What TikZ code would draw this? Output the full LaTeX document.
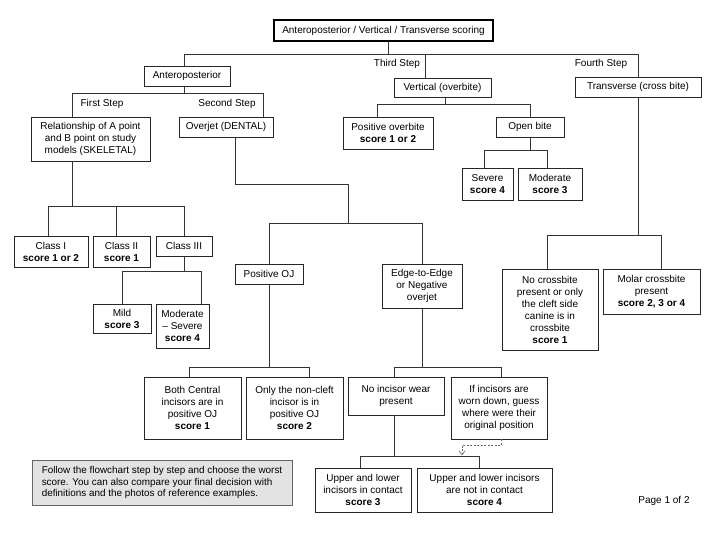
\documentclass[tikz,border=0pt]{standalone}
\usepackage{fontspec}
\setmainfont{Liberation Sans}
\usetikzlibrary{arrows.meta}
\tikzset{
  box/.style={draw=black!85, line width=0.75pt, inner sep=1pt, align=center,
    font=\fontsize{10}{12}\selectfont},
  lbl/.style={inner sep=0pt, font=\fontsize{10}{12}\selectfont},
  conn/.style={draw=black!80, line width=0.75pt},
}
\begin{document}
\begin{tikzpicture}[x=1pt,y=-1pt]
\useasboundingbox (0,0) rectangle (720,540);
% nodes
\node[box, line width=1.6pt, draw=black, minimum width=219pt, minimum height=21pt] (top) at (383.5,30.5) {Anteroposterior / Vertical / Transverse scoring};
\node[box, minimum width=86pt, minimum height=20pt] (ap) at (187,76) {Anteroposterior};
\node[box, minimum width=97pt, minimum height=19pt] (vert) at (442.5,87.5) {Vertical (overbite)};
\node[box, minimum width=126pt, minimum height=20pt] (trans) at (638,87) {Transverse (cross bite)};
\node[box, minimum width=119pt, minimum height=44pt] (rel) at (90.5,139) {Relationship of A point\\and B point on study\\models (SKELETAL)};
\node[box, minimum width=94pt, minimum height=20pt] (overjet) at (226,127) {Overjet (DENTAL)};
\node[box, minimum width=74pt, minimum height=31pt] (c1) at (51,251.5) {Class I\\\textbf{score 1 or 2}};
\node[box, minimum width=57pt, minimum height=31pt] (c2) at (121.5,251.5) {Class II\\\textbf{score 1}};
\node[box, minimum width=56pt, minimum height=20pt] (c3) at (184,246) {Class III};
\node[box, minimum width=58pt, minimum height=29pt] (mild) at (122,318.5) {Mild\\\textbf{score 3}};
\node[box, minimum width=53pt, minimum height=44pt] (mod) at (182.5,326) {Moderate\\-- Severe\\\textbf{score 4}};
\node[box, minimum width=68pt, minimum height=20pt] (posoj) at (269,274) {Positive OJ};
\node[box, minimum width=80pt, minimum height=44pt] (edge) at (422,286) {Edge-to-Edge\\or Negative\\overjet};
\node[box, minimum width=97pt, minimum height=62pt] (both) at (192.5,408) {Both Central\\incisors are in\\positive OJ\\\textbf{score 1}};
\node[box, minimum width=97pt, minimum height=62pt] (only) at (294.5,408) {Only the non-cleft\\incisor is in\\positive OJ\\\textbf{score 2}};
\node[box, minimum width=96pt, minimum height=38pt] (nowear) at (396,396) {No incisor wear\\present};
\node[box, minimum width=96pt, minimum height=62pt] (ifinc) at (499,408) {If incisors are\\worn down, guess\\where were their\\original position};
\node[box, minimum width=96pt, minimum height=44pt] (contact) at (363,490) {Upper and lower\\incisors in contact\\\textbf{score 3}};
\node[box, minimum width=135pt, minimum height=44pt] (notcontact) at (484.5,490) {Upper and lower incisors\\are not in contact\\\textbf{score 4}};
\node[box, minimum width=90pt, minimum height=32pt] (posob) at (388,133) {Positive overbite\\\textbf{score 1 or 2}};
\node[box, minimum width=68pt, minimum height=20pt] (open) at (530,127) {Open bite};
\node[box, minimum width=51pt, minimum height=32pt] (severe) at (487.5,184) {Severe\\\textbf{score 4}};
\node[box, minimum width=64pt, minimum height=32pt] (moderate) at (550,184) {Moderate\\\textbf{score 3}};
\node[box, minimum width=96pt, minimum height=81pt] (nocross) at (550,309.5) {No crossbite\\present or only\\the cleft side\\canine is in\\crossbite\\\textbf{score 1}};
\node[box, minimum width=97pt, minimum height=45pt] (molar) at (651.5,291.5) {Molar crossbite\\present\\\textbf{score 2, 3 or 4}};
\node[box, draw=black!60, fill=black!11, minimum width=260pt, minimum height=45pt, align=left, font=\fontsize{9.9}{11.2}\selectfont] (note) at (162,482.5) {Follow the flowchart step by step and choose the worst\\score. You can also compare your final decision with\\definitions and the photos of reference examples.};
% labels
\node[lbl] (s1) at (102,104) {First Step};
\node[lbl] (s2) at (227,104) {Second Step};
\node[lbl] (s3) at (397,64) {Third Step};
\node[lbl] (s4) at (601,64) {Fourth Step};
\node[lbl] (page) at (664,501) {Page 1 of 2};
% connectors
\path[conn] (top.south -| 388,0) -- ++(0,13);
\path[conn] (ap.north -| 184,0) |- (trans.north |- 0,54) -- (trans.north);
\path[conn] (vert.north -| 425,0) -- ++(0,-24);
\path[conn] (ap.south -| 184,0) -- ++(0,8);
\path[conn] (rel.north -| 72,0) -- ++(0,-23) -| (overjet.north -| 263,0);
\path[conn] (rel.south -| 72,0) -- ++(0,46);
\path[conn] (c1.north -| 48,0) -- ++(0,-29) -| (c3.north);
\path[conn] (c2.north -| 116,0) -- ++(0,-29);
\path[conn] (c3.south) -- ++(0,16);
\path[conn] (mild.north) -- ++(0,-32) -| (mod.north -| 201,0);
\path[conn] (overjet.south -| 235,0) -- ++(0,47) -| ++(113,40);
\path[conn] (posoj.north) -- ++(0,-40) -| (edge.north);
\path[conn] (posoj.south) -- ++(0,84);
\path[conn] (both.north -| 189,0) -- ++(0,-9) -| (only.north -| 309,0);
\path[conn] (edge.south) -- ++(0,60);
\path[conn] (nowear.north -| 394,0) -- ++(0,-9) -| (ifinc.north -| 501,0);
\path[conn] (nowear.south -| 394,0) -- ++(0,42);
\path[conn] (contact.north -| 360,0) -- ++(0,-11) -| (notcontact.north -| 479,0);
\draw[black!60, line width=0.7pt, dash pattern=on 2pt off 1.5pt, -{Straight Barb[length=4pt,width=6pt]}] (ifinc.south -| 501,0) -- ++(0,6) -| ++(-39,10);
\path[conn] (vert.south -| 445,0) -- ++(0,8);
\path[conn] (posob.north -| 377,0) -- ++(0,-12) -| (open.north);
\path[conn] (open.south) -- ++(0,14);
\path[conn] (severe.north -| 484,0) -- ++(0,-17) -| (moderate.north -| 547,0);
\path[conn] (trans.south) -- ++(0,139);
\path[conn] (nocross.north -| 547,0) -- ++(0,-33) -| (molar.north -| 661,0);
\end{tikzpicture}
\end{document}
